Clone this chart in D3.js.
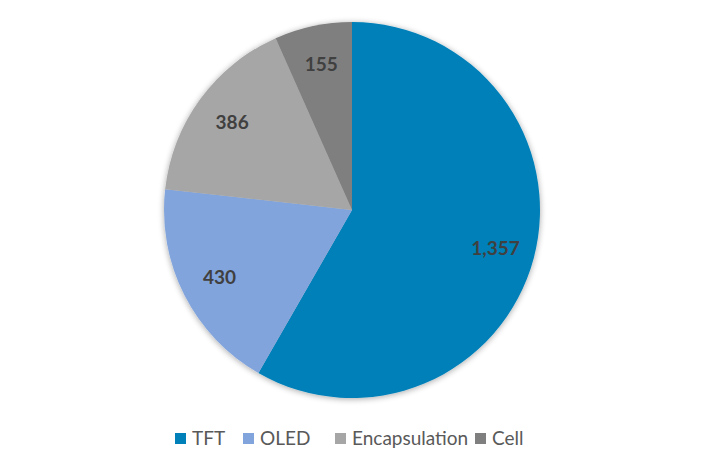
<!DOCTYPE html>
<html><head><meta charset="utf-8">
<script src="https://cdn.jsdelivr.net/npm/d3@7"></script>
<style>body{margin:0;background:#fff;} svg{display:block;}</style>
</head><body>
<svg id="c" width="705" height="470"></svg>
<script>
const categories = ["TFT", "OLED", "Encapsulation", "Cell"];
const values = [1357, 430, 386, 155];
const colors = ["#0080b9", "#82a4dc", "#a6a6a6", "#7f7f7f"];

const svg = d3.select("#c");
const cx = 352, cy = 210, r = 188;
const defs = svg.append("defs");
const f = defs.append("filter").attr("id","sh").attr("x","-10%").attr("y","-10%").attr("width","120%").attr("height","120%");
f.append("feGaussianBlur").attr("in","SourceAlpha").attr("stdDeviation",3).attr("result","b");
f.append("feOffset").attr("in","b").attr("dx",0).attr("dy",1).attr("result","o");
f.append("feComponentTransfer").attr("in","o").attr("result","o2").append("feFuncA").attr("type","linear").attr("slope",0.35);
const m = f.append("feMerge"); m.append("feMergeNode").attr("in","o2"); m.append("feMergeNode").attr("in","SourceGraphic");

const pie = d3.pie().sort(null).value(d => d)(values);
const arc = d3.arc().innerRadius(0).outerRadius(r);
const labelArc = d3.arc().innerRadius(r*0.79).outerRadius(r*0.79);
const g = svg.append("g").attr("transform",`translate(${cx},${cy})`);
g.append("g").attr("filter","url(#sh)").selectAll("path").data(pie).join("path")
  .attr("d", arc).attr("fill",(d,i)=>colors[i]);
const fmt = d3.format(",");
g.selectAll("text").data(pie).join("text")
  .attr("transform", d => `translate(${labelArc.centroid(d)})`)
  .attr("text-anchor","middle").attr("dy","0.35em")
  .attr("font-family","Lato, 'Open Sans', sans-serif").attr("font-weight","bold")
  .attr("font-size",19).attr("fill","#404040")
  .text(d => fmt(d.data));

// legend
const legendX = [175, 243, 335, 475];
const lg = svg.append("g");
categories.forEach((c,i)=>{
  lg.append("rect").attr("x",legendX[i]).attr("y",433).attr("width",11).attr("height",11).attr("fill",colors[i]);
  lg.append("text").attr("x",legendX[i]+17).attr("y",445)
    .attr("font-family","Lato, 'Open Sans', sans-serif").attr("font-size",19).attr("fill","#595959").text(c);
});
</script>
</body></html>
